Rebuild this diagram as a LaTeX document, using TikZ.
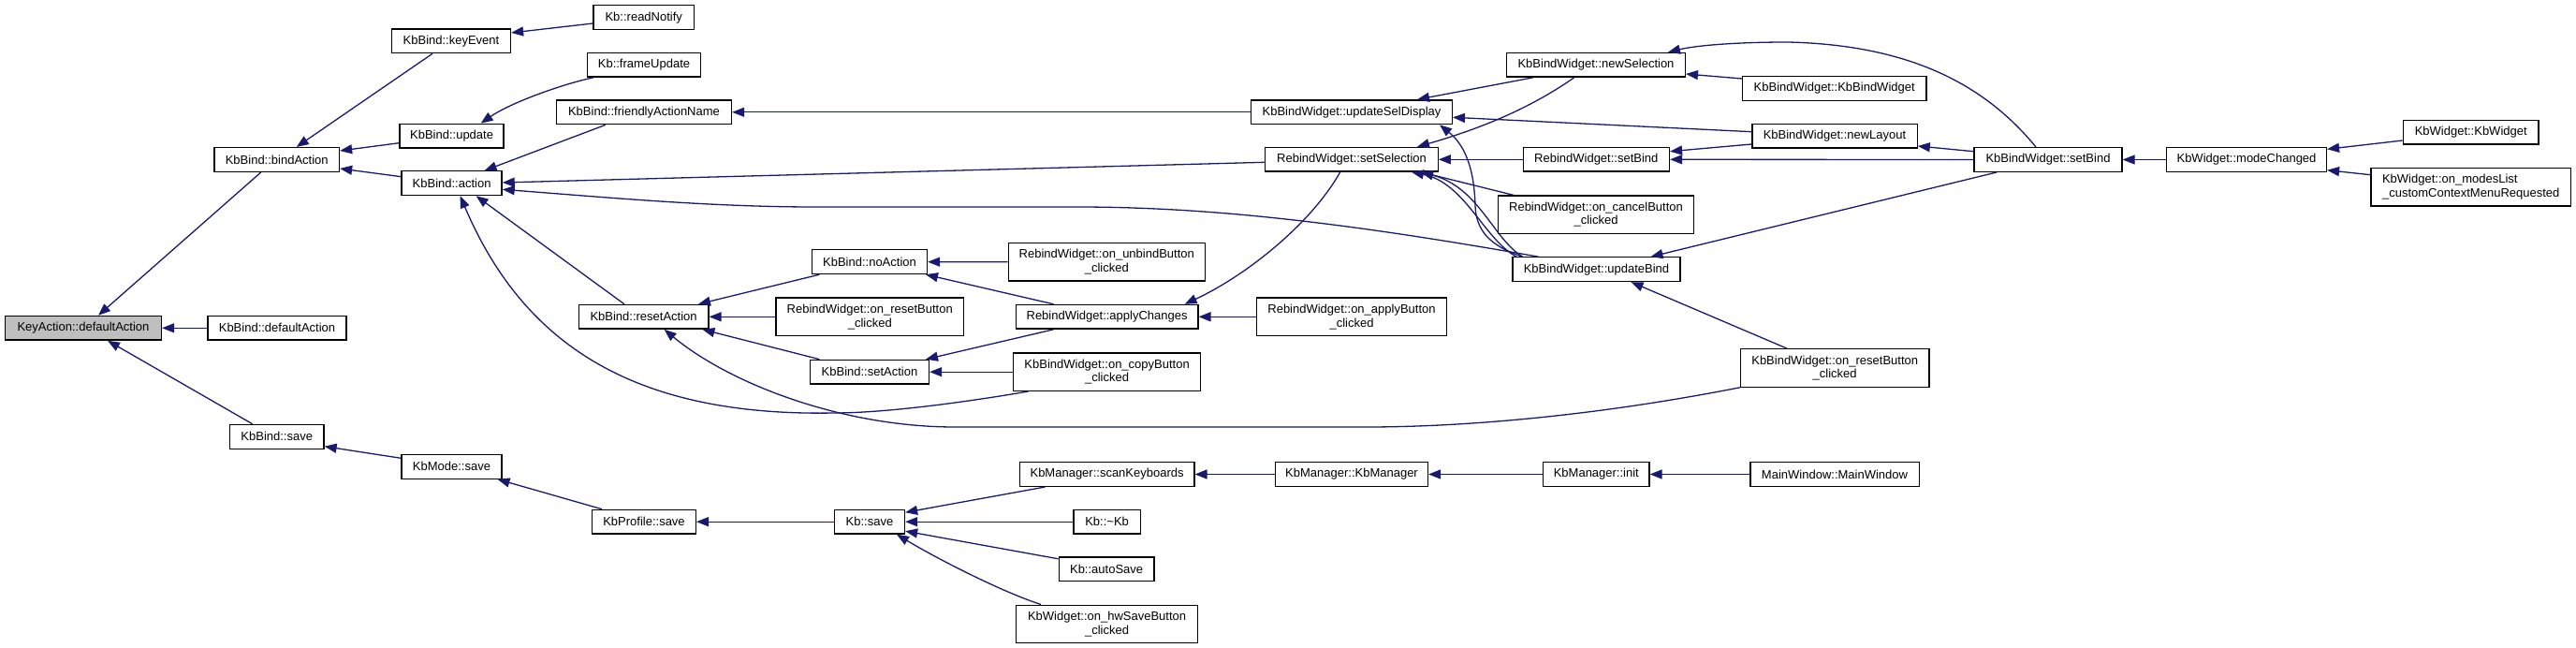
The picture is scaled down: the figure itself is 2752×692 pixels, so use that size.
\documentclass[tikz,border=0pt]{standalone}
\usepackage{fontspec}
\setmainfont{Liberation Sans}
\usetikzlibrary{arrows.meta}
\definecolor{edgeblue}{RGB}{25,25,112}
\definecolor{selgray}{RGB}{191,191,191}
\newcommand{\dxfs}{\fontsize{13}{14.7}\selectfont}
\tikzset{
  box/.style={draw=black, line width=1.3pt, fill=white, inner sep=0pt, align=center, font=\dxfs, minimum height=25.7pt},
  two/.style={minimum height=40.3pt},
  edge/.style={draw=edgeblue, line width=1.3pt, -{Triangle[length=13pt,width=10pt]}}
}
\begin{document}
\begin{tikzpicture}[x=1pt,y=-1pt]
\useasboundingbox (0,0) rectangle (2752,692);
% column 1
\node[box, fill=selgray, minimum width=167pt] (KA) at (89,350.3) {KeyAction::defaultAction};
% column 2
\node[box, minimum width=133.5pt] (bindAction) at (295.75,170.5) {KbBind::bindAction};
\node[box, minimum width=148pt] (kbDefault) at (296,350.3) {KbBind::defaultAction};
\node[box, minimum width=100.5pt] (save) at (295.75,466.3) {KbBind::save};
% column 3
\node[box, minimum width=127pt] (keyEvent) at (482,43.8) {KbBind::keyEvent};
\node[box, minimum width=111pt] (update) at (482.6,145.2) {KbBind::update};
\node[box, minimum width=107pt] (action) at (482.6,195.7) {KbBind::action};
\node[box, minimum width=107pt] (kbModeSave) at (482.5,498.3) {KbMode::save};
% column 4
\node[box, minimum width=107.5pt] (readNotify) at (687.75,18.7) {Kb::readNotify};
\node[box, minimum width=121.5pt] (frameUpdate) at (688,69.3) {Kb::frameUpdate};
\node[box, minimum width=187pt] (friendly) at (688,119.8) {KbBind::friendlyActionName};
\node[box, minimum width=138.7pt] (resetAction) at (687.6,338.3) {KbBind::resetAction};
\node[box, minimum width=110.7pt] (profileSave) at (688,557.2) {KbProfile::save};
% column 5
\node[box, minimum width=123pt] (noAction) at (929,279.7) {KbBind::noAction};
\node[box, two, minimum width=200.5pt] (rwReset) at (929.25,338.3) {RebindWidget::on\_resetButton\\\_clicked};
\node[box, minimum width=127pt] (setAction) at (929,397.2) {KbBind::setAction};
\node[box, minimum width=75pt] (kbSave) at (929,557.2) {Kb::save};
% column 6
\node[box, two, minimum width=210.3pt] (unbind) at (1182.3,279.8) {RebindWidget::on\_unbindButton\\\_clicked};
\node[box, minimum width=194.6pt] (applyChanges) at (1182.6,338.3) {RebindWidget::applyChanges};
\node[box, two, minimum width=200pt] (copyBtn) at (1182.6,397.2) {KbBindWidget::on\_copyButton\\\_clicked};
\node[box, minimum width=186.6pt] (scanKb) at (1182.6,506.5) {KbManager::scanKeyboards};
\node[box, minimum width=71.4pt] (kbDtor) at (1182.6,557.2) {Kb::\textasciitilde Kb};
\node[box, minimum width=101.75pt] (autoSave) at (1182.1,607.8) {Kb::autoSave};
\node[box, two, minimum width=193.8pt] (hwSave) at (1182.6,666.3) {KbWidget::on\_hwSaveButton\\\_clicked};
% column 7
\node[box, minimum width=214.7pt] (updateSel) at (1444,119.8) {KbBindWidget::updateSelDisplay};
\node[box, minimum width=184.4pt] (setSelection) at (1444,170.3) {RebindWidget::setSelection};
\node[box, two, minimum width=203.1pt] (applyBtn) at (1444,338.3) {RebindWidget::on\_applyButton\\\_clicked};
\node[box, minimum width=163pt] (kbManager) at (1444,506.5) {KbManager::KbManager};
% column 8
\node[box, minimum width=190.6pt] (newSelection) at (1705,69.3) {KbBindWidget::newSelection};
\node[box, minimum width=156.3pt] (rwSetBind) at (1705.3,170.3) {RebindWidget::setBind};
\node[box, two, minimum width=209.4pt] (cancelBtn) at (1705,229.2) {RebindWidget::on\_cancelButton\\\_clicked};
\node[box, minimum width=179pt] (updateBind) at (1705.5,287.7) {KbBindWidget::updateBind};
\node[box, minimum width=113.3pt] (init) at (1705.3,506.5) {KbManager::init};
% column 9
\node[box, minimum width=196.3pt] (kbBindWidget) at (1959.7,94.5) {KbBindWidget::KbBindWidget};
\node[box, minimum width=176.3pt] (newLayout) at (1960,145.2) {KbBindWidget::newLayout};
\node[box, two, minimum width=201.6pt] (kbwReset) at (1960.2,393) {KbBindWidget::on\_resetButton\\\_clicked};
\node[box, minimum width=180.3pt] (mainWindow) at (1960,506.5) {MainWindow::MainWindow};
% column 10-12
\node[box, minimum width=158pt] (kbwSetBind) at (2188,170.5) {KbBindWidget::setBind};
\node[box, minimum width=170.8pt] (modeChanged) at (2400,170.5) {KbWidget::modeChanged};
\node[box, minimum width=144.7pt] (kbWidget) at (2639.7,141.2) {KbWidget::KbWidget};
\node[box, two, minimum width=213.3pt, align=left] (modesList) at (2639.7,199.8) {KbWidget::on\_modesList\\\_customContextMenuRequested};

% edges
\draw[edge] ([xshift=-17pt]bindAction.south) -- ([xshift=16pt]KA.north);
\draw[edge] (kbDefault.west) -- (KA.east);
\draw[edge] ([xshift=-26pt]save.north) -- ([xshift=26pt]KA.south);
\draw[edge] ([xshift=-20pt]keyEvent.south) -- ([xshift=21pt]bindAction.north);
\draw[edge] ([yshift=-7.5pt]update.west) -- ([yshift=9.5pt]bindAction.east);
\draw[edge] ([yshift=7pt]action.west) -- ([yshift=-9.5pt]bindAction.east);
\draw[edge] ([yshift=-6.3pt]readNotify.west) -- ([yshift=8.8pt]keyEvent.east);
\draw[edge] ([xshift=-54pt]frameUpdate.south) .. controls (600,90) and (545,110) .. ([xshift=31pt]update.north);
\draw[edge] ([xshift=-41pt]friendly.south) -- ([xshift=35pt]action.north);
\draw[edge] ([yshift=-3pt]setSelection.west) -- ([yshift=0.7pt]action.east);
\draw[edge] ([xshift=-62pt]updateBind.north) .. controls (1450,240) and (1300,221) .. (1150,221) -- (870,221) .. controls (760,221) and (650,211) .. ([yshift=-6.6pt]action.east);
\draw[edge] ([xshift=-20.6pt]resetAction.north) -- ([xshift=26pt]action.south);
\draw[edge] ([xshift=-84pt]copyBtn.south) .. controls (1040,428) and (950,441) .. (891,441) .. controls (680,445) and (560,370) .. ([xshift=9pt]action.south);
\draw[edge] ([xshift=-53.6pt]noAction.south) -- ([xshift=58.4pt]resetAction.north);
\draw[edge] (rwReset.west) -- (resetAction.east);
\draw[edge] ([xshift=-53.6pt]setAction.north) -- ([xshift=62.8pt]resetAction.south);
\draw[edge] (kbwReset.south west) .. controls (1700,445) and (1560,456) .. (1460,456) -- (1020,456) .. controls (900,456) and (780,410) .. ([xshift=22pt]resetAction.south);
\draw[edge] (unbind.west) -- (noAction.east);
\draw[edge] ([xshift=-57pt]applyChanges.north) -- ([xshift=60pt]noAction.south);
\draw[edge] ([xshift=-57pt]applyChanges.south) -- ([xshift=60pt]setAction.north);
\draw[edge] (copyBtn.west) -- (setAction.east);
\draw[edge] (applyBtn.west) -- (applyChanges.east);
\draw[edge] ([xshift=-12.3pt]setSelection.south) .. controls (1400,240) and (1330,295) .. ([xshift=83pt]applyChanges.north);
\draw[edge] (updateSel.west) -- (friendly.east);
\draw[edge] ([xshift=-67pt]newSelection.south) -- ([xshift=70pt]updateSel.north);
\draw[edge] ([yshift=4.5pt]newLayout.west) -- ([yshift=-5.5pt]updateSel.east);
\draw[edge] ([xshift=-79pt]updateBind.north) .. controls (1590,262) and (1577,245) .. (1576,220) .. controls (1575,180) and (1565,155) .. ([xshift=94pt]updateSel.south);
\draw[edge] ([xshift=-23.3pt]newSelection.south) .. controls (1640,112) and (1590,135) .. ([xshift=70pt]setSelection.north);
\draw[edge] (rwSetBind.west) -- (setSelection.east);
\draw[edge] ([xshift=-88pt]cancelBtn.north) -- ([xshift=74pt]setSelection.south);
\draw[edge] ([xshift=-85.5pt]updateBind.north) .. controls (1585,255) and (1565,195) .. ([xshift=64pt]setSelection.south);
\draw[edge] ([xshift=-78.8pt]updateBind.north) .. controls (1595,255) and (1580,200) .. ([xshift=74pt]setSelection.south);
\draw[edge] ([yshift=10.5pt]kbBindWidget.west) -- ([yshift=-9.7pt]newSelection.east);
\draw[edge] ([xshift=-13pt]kbwSetBind.north) .. controls (2120,90) and (2040,48) .. (1910,45) .. controls (1850,45) and (1810,49) .. ([xshift=77pt]newSelection.north);
\draw[edge] ([yshift=-8.8pt]newLayout.west) -- ([yshift=8.6pt]rwSetBind.east);
\draw[edge] (kbwSetBind.west) -- (rwSetBind.east);
\draw[edge] ([yshift=8.8pt]kbwSetBind.west) -- ([yshift=-10.8pt]newLayout.east);
\draw[edge] ([xshift=-55pt]kbwSetBind.south) -- ([xshift=58pt]updateBind.north);
\draw[edge] ([xshift=-51pt]kbwReset.north) -- ([xshift=37pt]updateBind.south);
\draw[edge] (modeChanged.west) -- (kbwSetBind.east);
\draw[edge] ([yshift=-8.8pt]kbWidget.west) -- ([yshift=11.2pt]modeChanged.east);
\draw[edge] ([yshift=13.1pt]modesList.west) -- ([yshift=-11.2pt]modeChanged.east);
\draw[edge] ([yshift=9pt]kbModeSave.west) -- ([yshift=-10.4pt]save.east);
\draw[edge] ([xshift=-45pt]profileSave.north) -- ([xshift=49pt]kbModeSave.south);
\draw[edge] (kbSave.west) -- (profileSave.east);
\draw[edge] ([xshift=-66pt]scanKb.south) -- ([yshift=10pt]kbSave.east);
\draw[edge] (kbDtor.west) -- (kbSave.east);
\draw[edge] ([yshift=11pt]autoSave.west) -- ([yshift=-10pt]kbSave.east);
\draw[edge] ([xshift=-70.6pt]hwSave.north) .. controls (1070,632) and (1000,596) .. ([xshift=29pt]kbSave.south);
\draw[edge] (kbManager.west) -- (scanKb.east);
\draw[edge] (init.west) -- (kbManager.east);
\draw[edge] (mainWindow.west) -- (init.east);
\end{tikzpicture}
\end{document}
